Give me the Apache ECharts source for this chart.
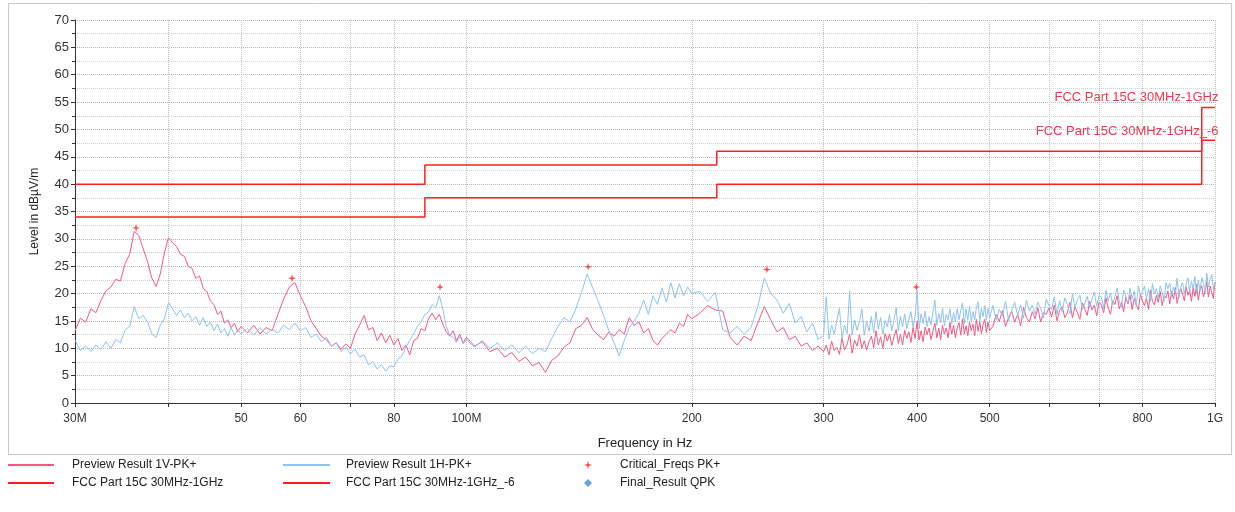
<!DOCTYPE html>
<html>
<head>
<meta charset="utf-8">
<script src="https://cdn.jsdelivr.net/npm/echarts@6/dist/echarts.min.js"></script>
<style>
html,body{margin:0;padding:0;background:#fff;}
#chart{width:1235px;height:512px;}
</style>
</head>
<body>
<div id="chart"></div>
<script>
//扫描频点 (MHz)
var freqMHz = [
	30,30.5,31,31.5,32,32.5,33,33.5,34,34.5,35,35.5,36,36.5,37,37.5,38,38.5,39,39.5,
	40,40.5,41,41.5,42,42.5,43,43.5,44,44.5,45,45.5,46,46.5,47,47.5,48,48.5,49,49.5,50,
	51,52,53,54,55,56,57,58,59,60,61,62,63,64,65,66,67,68,69,70,
	71,72,73,74,75,76,77,78,79,80,81,82,83,84,85,86,87,88,89,90,
	91,92,93,94,95,96,97,98,99,100,
	102.5,105,107.5,110,112.5,115,117.5,120,122.5,125,127.5,130,132.5,135,137.5,140,142.5,145,147.5,150,
	152.5,155,157.5,160,162.5,165,167.5,170,172.5,175,177.5,180,182.5,185,187.5,190,192.5,195,197.5,200,
	205,210,215,220,225,230,235,240,245,250,255,260,265,270,275,280,285,290,295,300,
	302.5,305,307.5,310,312.5,315,317.5,320,322.5,325,327.5,330,332.5,335,337.5,340,342.5,345,347.5,350,
	352.5,355,357.5,360,362.5,365,367.5,370,372.5,375,377.5,380,382.5,385,387.5,390,392.5,395,397.5,400,
	402.5,405,407.5,410,412.5,415,417.5,420,422.5,425,427.5,430,432.5,435,437.5,440,442.5,445,447.5,450,
	452.5,455,457.5,460,462.5,465,467.5,470,472.5,475,477.5,480,482.5,485,487.5,490,492.5,495,497.5,500,
	505,510,515,520,525,530,535,540,545,550,555,560,565,570,575,580,585,590,595,600,
	605,610,615,620,625,630,635,640,645,650,655,660,665,670,675,680,685,690,695,700,
	705,710,715,720,725,730,735,740,745,750,755,760,765,770,775,780,785,790,795,800,
	805,810,815,820,825,830,835,840,845,850,855,860,865,870,875,880,885,890,895,900,
	905,910,915,920,925,930,935,940,945,950,955,960,965,970,975,980,985,990,995,1000
];
//Preview Result 1V-PK+ (dBuV/m)
var previewV = [
	13.2,15.5,14.8,17.2,16.5,18.8,20.5,21.2,22.6,22.3,25.5,27.2,31.4,30.6,28.2,25.8,22.8,21.3,23.6,27.5,
	30.2,29.3,28.6,27.2,26.8,25.0,24.6,22.8,23.2,21.0,20.4,18.6,18.0,16.2,16.8,14.6,15.2,13.8,14.6,13.0,14.0,
	12.8,14.2,12.6,13.8,13.2,16.2,19.0,21.2,22.0,19.6,17.6,15.0,13.6,12.2,11.6,10.4,11.0,9.8,10.8,10.0,
	12.6,14.2,16.0,13.4,13.8,11.4,12.8,11.0,12.4,10.6,11.8,9.6,10.6,8.8,11.4,11.8,13.6,13.2,15.4,16.4,
	15.2,16.2,14.4,13.0,12.2,13.2,11.4,12.6,11.0,12.0,
	10.4,11.2,9.4,10.0,8.4,9.2,7.6,8.4,6.8,7.4,5.6,7.8,8.6,10.2,11.0,13.6,14.2,15.6,13.4,12.4,
	11.6,13.0,12.2,13.4,12.6,15.6,14.2,14.8,12.8,13.6,11.4,10.6,11.8,12.6,13.4,12.8,14.6,14.0,16.2,15.4,
	16.4,17.8,17.0,16.8,12.0,10.6,12.2,11.4,14.6,17.6,15.2,13.0,13.8,11.6,12.2,10.4,11.0,9.6,10.4,9.4,
	10.6,8.8,11.3,9.6,10.2,8.9,11.8,9.7,10.7,12.6,9.1,11.5,10.4,12.5,10.0,11.4,9.7,11.2,12.2,10.1,
	13.2,10.6,12.1,10.0,12.7,11.3,12.6,10.5,12.1,13.4,10.9,12.5,10.6,13.3,11.8,13.0,11.1,13.8,11.8,14.9,
	11.5,13.2,11.2,13.9,12.5,13.7,11.6,13.2,14.6,11.9,13.7,11.6,14.2,12.6,13.7,11.9,14.7,12.6,14.2,11.9,
	13.7,14.7,12.4,15.4,12.6,14.1,12.3,14.8,13.2,14.4,12.3,15.3,13.1,14.8,12.6,14.3,15.3,12.9,14.8,13.2,
	14.0,16.2,14.9,16.9,14.0,15.6,16.8,14.8,16.2,14.1,17.5,15.6,14.8,16.7,15.4,17.4,14.8,16.5,16.2,17.4,
	15.7,17.9,15.0,16.9,17.6,15.6,16.5,18.4,15.6,17.6,16.5,15.3,18.3,17.2,16.0,18.6,17.0,17.9,15.9,18.4,
	18.0,16.5,19.2,17.4,16.2,18.7,18.0,19.6,17.2,18.4,16.7,19.3,18.1,19.7,17.1,19.1,17.9,17.0,19.9,18.6,
	17.8,19.2,17.1,20.6,18.6,17.9,19.7,18.4,20.4,17.8,19.6,19.2,20.5,18.1,20.4,19.0,21.1,18.2,19.8,21.0,
	19.9,18.7,21.2,19.7,20.6,18.6,21.1,19.5,21.7,18.8,20.7,21.4,19.4,20.4,22.2,19.4,21.4,20.3,19.1,22.1
];
//Preview Result 1H-PK+ (dBuV/m)
var previewH = [
	11.5,9.6,10.4,9.4,10.6,9.8,11.2,10.0,11.6,11.0,13.4,14.0,17.6,15.4,16.0,14.8,12.6,12.0,14.2,15.4,
	18.4,17.2,16.0,17.0,15.6,16.4,15.0,15.8,14.2,15.6,14.0,14.8,13.2,14.4,12.8,13.6,12.2,13.8,12.4,13.4,12.6,
	13.6,12.4,13.8,12.6,13.4,12.8,14.2,13.4,14.6,13.2,13.8,12.0,12.6,11.2,12.0,10.4,11.0,9.4,10.2,9.0,
	9.8,8.4,8.8,7.0,7.6,6.2,7.0,5.8,6.8,6.6,8.0,8.6,10.2,11.4,12.6,14.0,14.8,16.2,16.6,18.0,
	17.4,19.6,17.2,14.0,12.4,12.0,11.0,12.2,10.8,11.6,
	10.2,11.4,10.0,11.0,9.6,10.6,9.2,10.4,9.0,10.0,9.4,11.8,14.0,15.6,14.8,17.2,20.2,23.6,21.0,18.6,
	16.0,13.2,11.0,8.6,11.4,13.8,15.0,16.4,18.8,16.2,19.6,18.0,21.0,18.4,22.0,19.2,21.8,19.6,21.2,20.0,
	20.4,18.6,20.2,13.4,12.8,14.0,12.6,13.8,17.6,22.8,20.0,18.8,16.4,18.2,14.6,15.8,13.0,14.6,11.6,12.4,
	19.4,11.7,14.2,12.6,15.1,17.3,11.8,14.2,12.7,20.5,12.4,15.2,13.3,14.9,17.2,12.4,14.9,13.1,15.8,12.8,
	16.7,13.5,15.6,12.6,15.1,13.9,16.2,13.2,15.1,17.4,13.2,15.8,13.9,16.3,13.6,15.2,16.7,13.9,15.8,20.6,
	13.6,16.3,14.5,16.8,14.0,15.8,14.3,16.7,18.8,14.2,16.4,14.7,17.3,14.1,16.2,15.2,17.2,14.5,16.5,14.8,
	17.2,15.2,16.9,18.3,14.5,17.2,15.2,17.7,14.9,16.7,15.2,17.4,18.5,14.9,17.3,15.8,17.8,15.2,17.3,15.5,
	17.8,15.2,17.1,15.9,18.6,15.0,16.9,18.4,16.0,17.9,15.5,18.8,16.8,17.9,16.2,18.4,17.3,15.5,19.0,17.8,
	17.1,19.4,16.2,18.7,16.7,19.2,18.0,16.3,20.0,17.4,18.9,19.7,17.0,18.2,19.5,17.4,19.0,20.3,17.7,19.6,
	19.4,17.3,20.6,18.6,20.1,17.9,19.4,21.0,18.5,17.6,20.6,19.5,18.1,21.0,19.0,20.5,17.8,21.4,19.7,20.3,
	21.4,19.0,20.9,18.6,21.8,19.9,20.9,19.2,21.4,20.3,18.6,22.0,20.9,21.9,19.4,21.2,20.1,22.8,19.2,21.1,
	22.1,20.0,21.6,22.9,20.4,22.2,20.9,23.1,20.0,22.4,20.5,22.9,21.8,20.1,23.7,21.2,22.6,23.5,20.7,22.0
];
//限值线分段边界 (MHz) 和各段电平
var limitEdges = [30, 88, 216, 960, 1000];
var limitQP = [40, 43.5, 46, 54];
var limitQP6 = [34, 37.5, 40, 48];
//Critical_Freqs PK+
var critFreq = [36.2, 58.5, 92.2, 145.4, 252, 399];
var critLevel = [32.0, 22.8, 21.2, 24.9, 24.4, 21.2];
//Final_Result QPK (图中无点)
var finalFreq = [];
var finalLevel = [];
//坐标轴刻度
var tickFreqs = [30, 40, 50, 60, 70, 80, 100, 200, 300, 400, 500, 600, 700, 800, 1000];
var labelFreqs = [30, 50, 60, 80, 100, 200, 300, 400, 500, 800, 1000];

var NAME_V = 'Preview Result 1V-PK+';
var NAME_H = 'Preview Result 1H-PK+';
var NAME_QP = 'FCC Part 15C 30MHz-1GHz';
var NAME_QP6 = 'FCC Part 15C 30MHz-1GHz_-6';
var NAME_CRIT = 'Critical_Freqs PK+';
var NAME_FINAL = 'Final_Result QPK';

var STAR = 'path://M0,-10L2.2,-2.2L10,0L2.2,2.2L0,10L-2.2,2.2L-10,0L-2.2,-2.2Z';
var FONT = '"Liberation Sans", Arial, sans-serif';

//x轴用log10(MHz)的线性轴
function lg(f) { return Math.log10(f); }

function buildPairs(freqs, levels)
{
	var pts = [];
	for (var i = 0; i < freqs.length; i++)
	{
		pts.push([lg(freqs[i]), levels[i]]);
	}
	return pts;
}
//限值线做成阶梯
function buildLimit(levels)
{
	var pts = [];
	for (var i = 0; i < levels.length; i++)
	{
		pts.push([lg(limitEdges[i]), levels[i]]);
		pts.push([lg(limitEdges[i + 1]), levels[i]]);
	}
	return pts;
}
function freqText(v)
{
	var f = Math.round(Math.pow(10, v));
	if (f == 30) return '30M';
	if (f == 100) return '100M';
	if (f == 1000) return '1G';
	return String(f);
}
function limitLabel(text, level, dy)
{
	return {
		symbol: 'circle', symbolSize: 1, silent: true,
		itemStyle: {color: 'rgba(0,0,0,0)'},
		data: [{coord: [3, level]}],
		label: {show: true, position: 'left', distance: 0, offset: [4, dy], formatter: text,
			color: '#f0384f', fontSize: 13, fontFamily: FONT}
	};
}

var myChart = echarts.init(document.getElementById('chart'));
var option = {
	animation: false,
	backgroundColor: '#fff',
	textStyle: {fontFamily: FONT},
	graphic: [{
		type: 'rect', silent: true, z: -1,
		shape: {x: 8.5, y: 3.5, width: 1223, height: 451},
		style: {fill: 'none', stroke: '#c8c8c8', lineWidth: 1}
	}],
	grid: {left: 75, right: 20, top: 20, bottom: 109},
	xAxis: {
		type: 'value', min: lg(30), max: 3,
		name: 'Frequency in Hz', nameLocation: 'middle', nameGap: 34,
		nameTextStyle: {fontSize: 13, color: '#222', fontFamily: FONT},
		axisLine: {lineStyle: {color: '#333'}},
		axisTick: {customValues: tickFreqs.map(lg), length: 4, lineStyle: {color: '#333'}},
		axisLabel: {customValues: labelFreqs.map(lg), formatter: freqText, fontSize: 12, color: '#333', margin: 10, fontFamily: FONT},
		splitLine: {show: true, lineStyle: {type: 'dotted', color: '#c0c0c0'}}
	},
	yAxis: {
		type: 'value', min: 0, max: 70, interval: 5,
		name: 'Level in dBµV/m', nameLocation: 'middle', nameGap: 34,
		nameTextStyle: {fontSize: 12, color: '#222', fontFamily: FONT},
		axisLine: {show: true, lineStyle: {color: '#333'}},
		axisTick: {show: true, length: 4, lineStyle: {color: '#333'}},
		minorTick: {show: true, splitNumber: 2, length: 3, lineStyle: {color: '#333'}},
		axisLabel: {fontSize: 13, color: '#333', margin: 6, fontFamily: FONT},
		splitLine: {lineStyle: {type: 'dotted', color: '#b8b8b8'}},
		minorSplitLine: {show: true, lineStyle: {type: 'dotted', color: '#d0d0d0'}}
	},
	legend: [
		{left: 8, top: 459, orient: 'vertical', padding: 0, itemGap: 6, itemWidth: 46, itemHeight: 2, icon: 'rect',
			data: [NAME_V, NAME_QP], textStyle: {fontSize: 12, color: '#222', padding: [0, 0, 0, 13], fontFamily: FONT}},
		{left: 283, top: 459, orient: 'vertical', padding: 0, itemGap: 6, itemWidth: 47, itemHeight: 2, icon: 'rect',
			data: [NAME_H, NAME_QP6], textStyle: {fontSize: 12, color: '#222', padding: [0, 0, 0, 11], fontFamily: FONT}},
		{left: 584, top: 459, orient: 'vertical', padding: 0, itemGap: 6, itemWidth: 8, itemHeight: 8,
			data: [{name: NAME_CRIT, icon: STAR}, {name: NAME_FINAL, icon: 'diamond'}],
			textStyle: {fontSize: 12, color: '#222', padding: [0, 0, 0, 23], fontFamily: FONT}}
	],
	series: [
		{name: NAME_V, type: 'line', data: buildPairs(freqMHz, previewV), showSymbol: false,
			color: '#f25a85', lineStyle: {width: 1}, z: 2},
		{name: NAME_QP, type: 'line', data: buildLimit(limitQP), showSymbol: false,
			color: '#ff1f1f', lineStyle: {width: 1.5}, z: 4, markPoint: limitLabel(NAME_QP, 54, -10)},
		{name: NAME_H, type: 'line', data: buildPairs(freqMHz, previewH), showSymbol: false,
			color: '#8ec3f0', lineStyle: {width: 1}, z: 3},
		{name: NAME_QP6, type: 'line', data: buildLimit(limitQP6), showSymbol: false,
			color: '#ff1f1f', lineStyle: {width: 1.5}, z: 4, markPoint: limitLabel(NAME_QP6, 48, -9)},
		{name: NAME_CRIT, type: 'scatter', data: buildPairs(critFreq, critLevel), symbol: STAR, symbolSize: 8,
			color: '#ff2020', z: 5},
		{name: NAME_FINAL, type: 'scatter', data: buildPairs(finalFreq, finalLevel), symbol: 'diamond', symbolSize: 8,
			color: '#3a8fd8', z: 5}
	]
};
myChart.setOption(option);
</script>
</body>
</html>
